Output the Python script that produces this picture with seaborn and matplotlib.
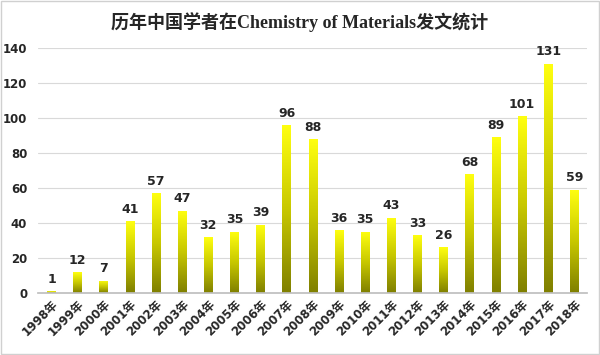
import numpy as np
import pandas as pd
import seaborn as sns
import matplotlib.pyplot as plt
from matplotlib.colors import LinearSegmentedColormap

# data
years = [f"{y}年" for y in range(1998, 2019)]
counts = [1, 12, 7, 41, 57, 47, 32, 35, 39, 96, 88, 36, 35, 43, 33, 26, 68, 89, 101, 131, 59]

df = pd.DataFrame({"year": years, "count": counts})

sns.set_theme(style="white")
plt.rcParams['font.family'] = ['DejaVu Sans', 'Noto Sans CJK SC']

fig = plt.figure(figsize=(6, 3.55), dpi=100)
ax = fig.add_axes([0.064, 0.175, 0.915, 0.690])

sns.barplot(data=df, x="year", y="count", color="#e0e000", width=0.33, ax=ax)

# vertical gradient fill: yellow on top, olive at the bottom
cmap = LinearSegmentedColormap.from_list("yl", ["#7f7f00", "#c8c800", "#ffff10"])
grad = np.linspace(0, 1, 256).reshape(-1, 1)
for bar in ax.patches:
    x0, y0 = bar.get_x(), bar.get_y()
    w, h = bar.get_width(), bar.get_height()
    if h <= 0:
        continue
    im = ax.imshow(grad, cmap=cmap, aspect="auto", origin="lower",
                   extent=[x0, x0 + w, y0, y0 + h], zorder=2)
    im.set_clip_path(bar)
    bar.set_facecolor("none")
    bar.set_edgecolor("none")

for i, v in enumerate(counts):
    ax.text(i, v + 3, str(v), ha="center", va="bottom", fontsize=9, fontweight="bold")

ax.set_xlim(-0.5, len(years) - 0.5)
ax.set_ylim(0, 140)
ax.set_yticks(range(0, 141, 20))
ax.yaxis.grid(True, color="#d9d9d9", linewidth=0.8)
ax.set_axisbelow(True)
for s in ["top", "right", "left"]:
    ax.spines[s].set_visible(False)
ax.spines["bottom"].set_color("#bfbfbf")
ax.tick_params(axis="both", length=0, labelsize=8.5)
ax.tick_params(axis="y", pad=8)
plt.setp(ax.get_yticklabels(), fontweight="bold")
plt.setp(ax.get_xticklabels(), rotation=45, ha="right", rotation_mode="anchor",
         fontweight="bold")
ax.set_xlabel("")
ax.set_ylabel("")

fig.suptitle("历年中国学者在Chemistry of Materials发文统计", y=0.965,
             fontsize=13, fontweight="bold",
             family=["Liberation Serif", "Noto Sans CJK SC"])

# thin border around the whole picture
fig.patches.append(plt.Rectangle((0.002, 0.003), 0.996, 0.994, transform=fig.transFigure,
                                 fill=False, edgecolor="#d0d0d0", linewidth=1))

fig.savefig("out.png", dpi=100)
